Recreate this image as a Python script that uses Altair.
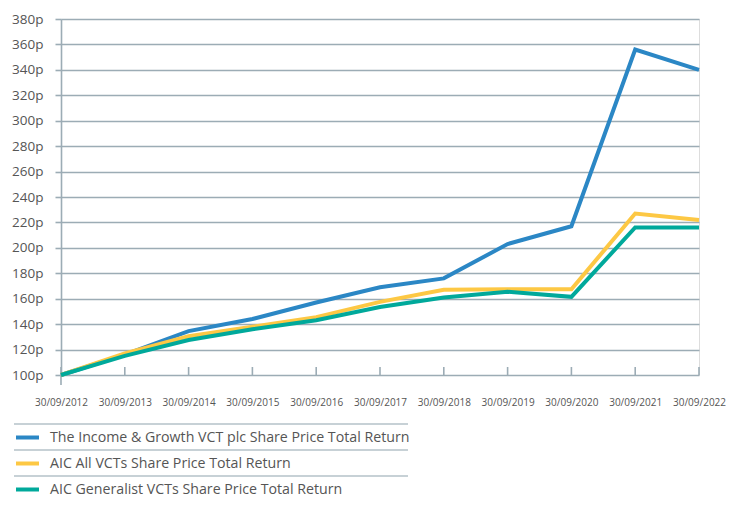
import altair as alt
import pandas as pd

dates = ["30/09/2012", "30/09/2013", "30/09/2014", "30/09/2015", "30/09/2016",
         "30/09/2017", "30/09/2018", "30/09/2019", "30/09/2020", "30/09/2021", "30/09/2022"]
series_names = [
    "The Income & Growth VCT plc Share Price Total Return",
    "AIC All VCTs Share Price Total Return",
    "AIC Generalist VCTs Share Price Total Return",
]
income_growth = [100, 116, 134.5, 144, 157, 169, 176, 203, 217, 356, 340]
aic_all = [100, 117, 130.5, 138, 145.5, 157.5, 167, 167.5, 167.5, 227, 222]
aic_generalist = [100, 115, 127.5, 136, 143, 153.5, 161, 165.5, 161.5, 216, 216]
y_ticks = list(range(100, 381, 20))
colors = ["#2b87c5", "#fdc844", "#00a99b"]

rows = []
for name, vals in zip(series_names, [income_growth, aic_all, aic_generalist]):
    for d, v in zip(dates, vals):
        rows.append({"date": d, "series": name, "value": v})
df = pd.DataFrame(rows)
dates_df = pd.DataFrame({"date": dates})
one_row = pd.DataFrame({"k": [0]})

W, H = 638, 356
GRID = "#9cacb5"
FONT = "Open Sans"


def x_enc():
    return alt.X("date:O", sort=dates,
                 scale=alt.Scale(type="point", padding=0),
                 axis=alt.Axis(title=None, labelAngle=0, ticks=False, tickSize=0,
                               domain=False, grid=False, labelFontSize=10,
                               labelColor="#555555", labelPadding=22, labelFont=FONT))


lines = alt.Chart(df).mark_line(strokeWidth=4).encode(
    x=x_enc(),
    y=alt.Y("value:Q",
            scale=alt.Scale(domain=[100, 380], nice=False, zero=False),
            axis=alt.Axis(title=None, values=y_ticks, labelExpr="datum.value + 'p'",
                          grid=True, gridColor=GRID, gridWidth=1.6,
                          tickSize=6, tickColor=GRID, tickWidth=1.6,
                          domain=True, domainColor=GRID, domainWidth=1.6,
                          labelPadding=12, labelFontSize=13.5, labelColor="#555555",
                          labelFont=FONT)),
    color=alt.Color("series:N", sort=series_names,
                    scale=alt.Scale(domain=series_names, range=colors),
                    legend=alt.Legend(title=None, orient="none", legendX=-47, legendY=405,
                                      direction="vertical", symbolType="stroke",
                                      symbolStrokeWidth=4, symbolSize=529,
                                      labelFontSize=14.2, labelColor="#555555",
                                      labelFont=FONT, labelOffset=9, rowPadding=4,
                                      labelLimit=500)),
    order=alt.Order("series_order:Q"),
).transform_calculate(
    series_order="indexof(" + str(series_names) + ", datum.series)"
)

year_ticks = alt.Chart(dates_df).mark_rule(color=GRID, strokeWidth=1.6).encode(
    x=x_enc(),
    y=alt.value(H - 8), y2=alt.value(H),
)

y_ext = alt.Chart(one_row).mark_rule(color=GRID, strokeWidth=1.6).encode(
    x=alt.value(0), y=alt.value(H), y2=alt.value(H + 10))

seps = [
    alt.Chart(one_row).mark_rule(color="#8fa3ae", strokeWidth=1.2).encode(
        x=alt.value(-47), x2=alt.value(347), y=alt.value(yy))
    for yy in (405, 431, 457)
]

chart = alt.layer(year_ticks, y_ext, *seps, lines).properties(
    width=W, height=H,
    autosize=alt.AutoSizeParams(type="none"),
    padding={"left": 53, "top": 11, "right": 27, "bottom": 125},
).configure_view(stroke=None).configure(font=FONT)

chart.save("out.html", embed_options={"renderer": "svg", "actions": False})
